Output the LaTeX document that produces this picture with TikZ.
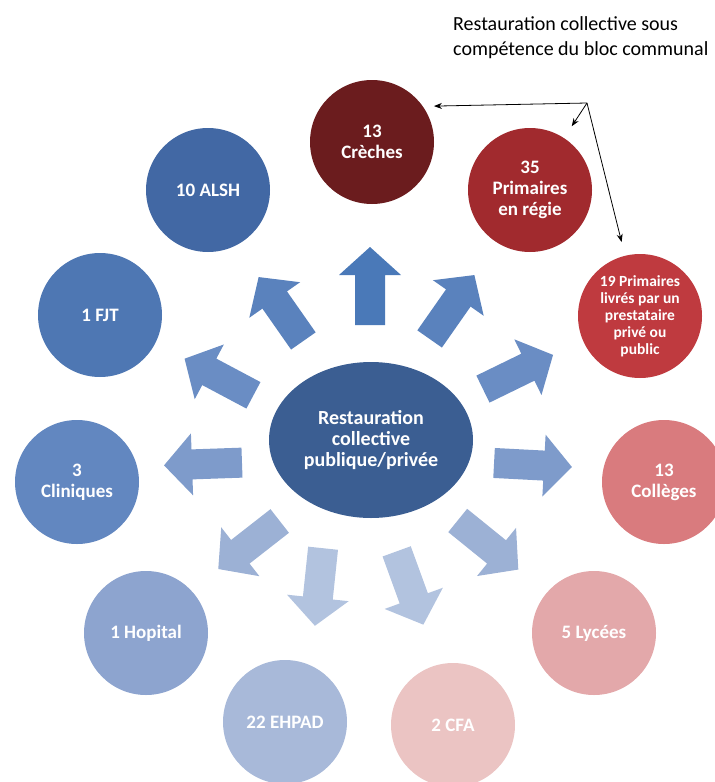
\documentclass[tikz,border=0pt]{standalone}
\usepackage{fontspec}
\setmainfont{Carlito}
\usetikzlibrary{arrows.meta,shapes.geometric}
\definecolor{cenC}{HTML}{3B5E92}
\definecolor{creC}{HTML}{6B1C1E}
\definecolor{prA}{HTML}{A12A2E}
\definecolor{prB}{HTML}{BF3A3F}
\definecolor{colC}{HTML}{D97B7E}
\definecolor{lycC}{HTML}{E3A8AA}
\definecolor{cfaC}{HTML}{EBC4C3}
\definecolor{ehpC}{HTML}{A8B9D9}
\definecolor{hopC}{HTML}{8DA4CF}
\definecolor{cliC}{HTML}{6287C0}
\definecolor{fjtC}{HTML}{4E77B3}
\definecolor{alsC}{HTML}{4268A4}
\definecolor{aA}{HTML}{4A79B8}
\definecolor{aB}{HTML}{5A82BD}
\definecolor{aC}{HTML}{6A8DC4}
\definecolor{aD}{HTML}{7E9BCB}
\definecolor{aE}{HTML}{9CB1D5}
\definecolor{aF}{HTML}{B2C3DF}
\begin{document}
\begin{tikzpicture}[x=1pt,y=-1pt,
  bubble/.style={circle, minimum size=124pt, inner sep=0pt, text=white,
    font=\fontsize{19}{21}\selectfont\bfseries, align=center},
  note/.style={-{Stealth[length=8pt,width=6pt]}, line width=0.8pt, black}]
\useasboundingbox (0,0) rectangle (715,782);
% block arrows
\foreach \cx/\cy/\ang/\col in {
  370/286/90/aA, 452/307/55/aB, 518/372/26/aC, 533/465/-3/aD,
  488/545/-39/aE, 410/588/-70/aF, 319/587/-96/aF, 249/545/-142/aE,
  203/464/182/aD, 219/377/152/aC, 281/309/125/aB}{
  \fill[\col, shift={(\cx,\cy)}, rotate=\ang]
    (-39,-15) -- (11,-15) -- (11,-31) -- (39,0) -- (11,31) -- (11,15) -- (-39,15) -- cycle;
}
% centre
\node[ellipse, minimum width=204pt, minimum height=156pt, inner sep=0pt, fill=cenC,
  text=white, align=center, font=\fontsize{20}{21}\selectfont\bfseries] (c) at (371,440)
  {Restauration\\collective\\publique/privée};
% circles
\node[bubble, fill=creC] (cre) at (372,142) {13\\Crèches};
\node[bubble, fill=prA] (p35) at (530,190) {35\\Primaires\\en régie};
\node[bubble, fill=prB, font=\fontsize{15.5}{17}\selectfont\bfseries] (p19) at (640,316)
  {19 Primaires\\livrés par un\\prestataire\\privé ou\\public};
\node[bubble, fill=colC] (col) at (664,482) {13\\Collèges};
\node[bubble, fill=lycC] (lyc) at (594,633) {5 Lycées};
\node[bubble, fill=cfaC] (cfa) at (453,725) {2 CFA};
\node[bubble, fill=ehpC] (ehp) at (285,722) {22 EHPAD};
\node[bubble, fill=hopC] (hop) at (146,633) {1 Hopital};
\node[bubble, fill=cliC] (cli) at (77,482) {3\\Cliniques};
\node[bubble, fill=fjtC] (fjt) at (100,315) {1 FJT};
\node[bubble, fill=alsC] (als) at (208,190) {10 ALSH};
% annotation
\node[anchor=base west, align=left, inner sep=0pt,
  font=\fontsize{20}{25}\selectfont] (txt) at (453,55)
  {Restauration collective sous\\compétence du bloc communal};
\coordinate (hub) at (587,103);
\draw[note, shorten >=11pt] (hub) -- (cre.35);
\draw[note, shorten >=14pt] (hub) -- (p35);
\draw[note, shorten >=14pt] (hub) -- (p19);
\end{tikzpicture}
\end{document}
